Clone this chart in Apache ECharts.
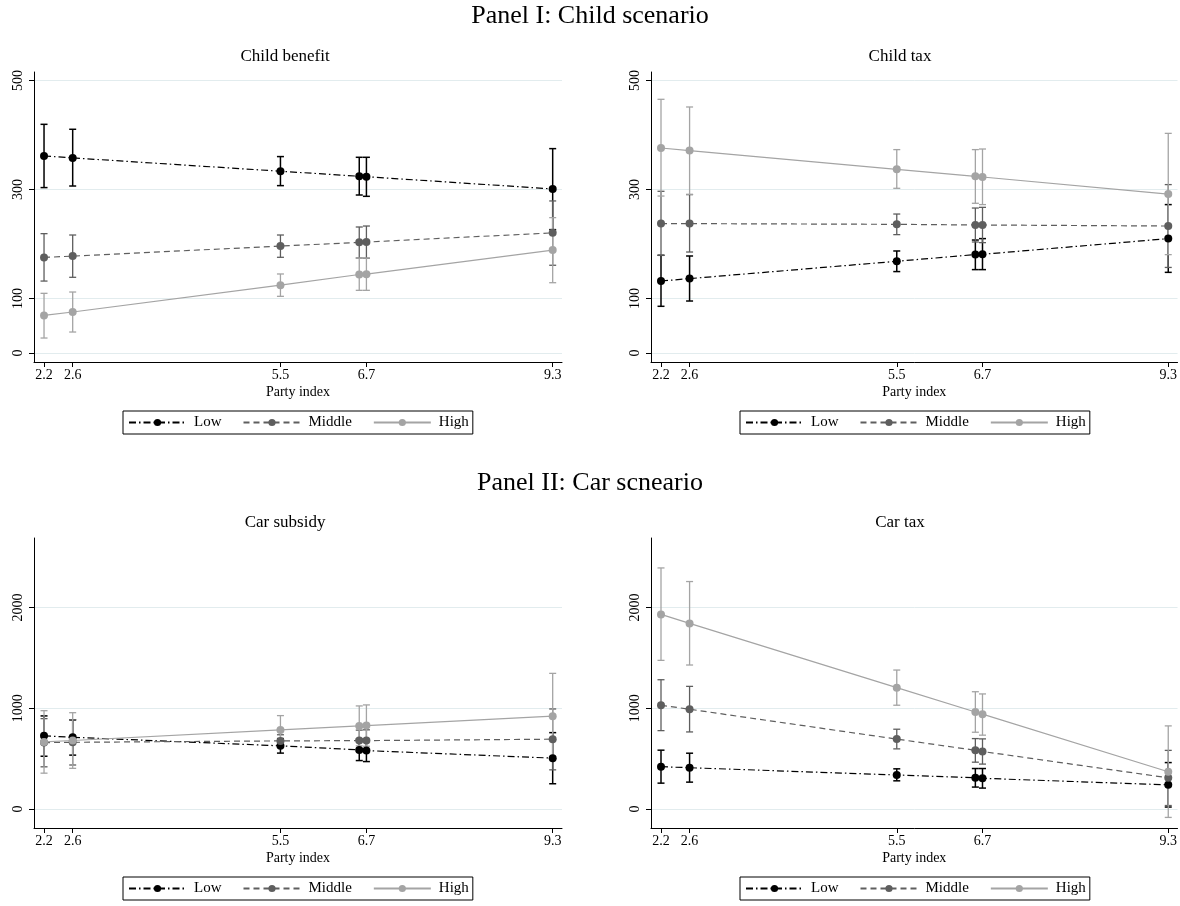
<!DOCTYPE html>
<html>
<head>
<meta charset="utf-8">
<script src="https://cdn.jsdelivr.net/npm/echarts@6.0.0/dist/echarts.min.js"></script>
<style>
html, body { margin: 0; padding: 0; background: #fff; }
#main { width: 1180px; height: 906px; }
</style>
</head>
<body>
<div id="main"></div>
<script>
// party index positions of the six parties, and the ticks that are labelled
var partyIndex = [2.2, 2.6, 5.5, 6.6, 6.7, 9.3];
var partyTicks = [2.2, 2.6, 5.5, 6.7, 9.3];
var groups = ['Low', 'Middle', 'High'];
var childTicks = [0, 100, 300, 500];
var carTicks = [0, 1000, 2000];

// Child benefit
var cbLow = [361.5, 358, 333.5, 324.3, 323.5, 301];
var cbLowLo = [303.5, 306.4, 307.1, 289.9, 287.5, 226.4];
var cbLowHi = [419.6, 410.5, 360.4, 359.1, 359.1, 375];
var cbMid = [175.3, 177.8, 196.2, 203, 203.5, 220.5];
var cbMidLo = [132, 138.9, 175.6, 174.3, 174, 161];
var cbMidHi = [219, 216.5, 216.5, 231.2, 233, 279];
var cbHigh = [69, 75.2, 124.4, 144, 144.6, 188.8];
var cbHighLo = [27.5, 38.5, 104, 115, 115, 129];
var cbHighHi = [109.5, 111.9, 145, 174.3, 174.3, 248.4];

// Child tax
var ctLow = [132.1, 136.5, 168.3, 180.6, 181.1, 209.9];
var ctLowLo = [85.7, 95.4, 149.4, 153, 153, 148];
var ctLowHi = [179.3, 178, 187.2, 207.3, 209.9, 272.3];
var ctMid = [237.4, 237.4, 236.1, 234.9, 234.9, 233];
var ctMidLo = [179.3, 185.3, 217.2, 203.7, 202.5, 157];
var ctMidHi = [296.7, 290.6, 255, 266, 267.3, 309];
var ctHigh = [376.2, 371.4, 337.1, 324.2, 322.9, 291.7];
var ctHighLo = [288, 291.2, 302.2, 274.7, 272.3, 180.5];
var ctHighHi = [465.5, 451.4, 373.2, 373.2, 374.3, 403];

// Car subsidy
var csLow = [726, 712, 627, 587, 580, 505];
var csLowLo = [524, 535, 555, 481, 471, 251];
var csLowHi = [924, 884, 699, 693, 689, 758];
var csMid = [659, 662, 676, 679, 679, 693];
var csMidLo = [419, 437, 615, 575, 572, 389];
var csMidHi = [897, 887, 737, 783, 786, 993];
var csHigh = [666, 680, 785, 825, 828, 921];
var csHighLo = [356, 404, 643, 627, 623, 498];
var csHighHi = [976, 956, 927, 1023, 1033, 1346];

// Car tax
var cxLow = [420, 410, 338, 310, 305, 240];
var cxLowLo = [257, 267, 280, 218, 208, 20];
var cxLowHi = [584, 554, 399, 402, 402, 461];
var cxMid = [1030, 990, 694, 583, 571, 310];
var cxMidLo = [778, 765, 597, 465, 446, 35];
var cxMidHi = [1283, 1217, 792, 699, 696, 582];
var cxHigh = [1931, 1842, 1204, 963, 941, 370];
var cxHighLo = [1475, 1429, 1030, 762, 733, -83];
var cxHighHi = [2392, 2257, 1379, 1164, 1142, 825];

var serif = 'Liberation Serif';
var colors = { Low: '#000000', Middle: '#5e5e5e', High: '#a4a4a4' };
var dashes = { Low: [7, 3, 1.5, 3], Middle: [6, 4], High: 'solid' };

var chartDom = document.getElementById('main');
var myChart = echarts.init(chartDom, null, { width: 1180, height: 906 });

var grids = [
    { left: 34, top: 72, width: 528, height: 290 },
    { left: 651, top: 72, width: 527, height: 290 },
    { left: 34, top: 538, width: 528, height: 290 },
    { left: 651, top: 538, width: 527, height: 290 }
];
var yRanges = [[-16.5, 515.6], [-16.5, 515.6], [-188, 2689], [-188, 2689]];
var yTicks = [childTicks, childTicks, carTicks, carTicks];
var legendPos = [[123, 411], [740, 411], [123, 877], [740, 877]];

var panels = [
    [[cbLow, cbLowLo, cbLowHi], [cbMid, cbMidLo, cbMidHi], [cbHigh, cbHighLo, cbHighHi]],
    [[ctLow, ctLowLo, ctLowHi], [ctMid, ctMidLo, ctMidHi], [ctHigh, ctHighLo, ctHighHi]],
    [[csLow, csLowLo, csLowHi], [csMid, csMidLo, csMidHi], [csHigh, csHighLo, csHighHi]],
    [[cxLow, cxLowLo, cxLowHi], [cxMid, cxMidLo, cxMidHi], [cxHigh, cxHighLo, cxHighHi]]
];

function capRenderer(color, width) {
    return function (params, api) {
        var x = api.value(0);
        var lo = api.coord([x, api.value(1)]);
        var hi = api.coord([x, api.value(2)]);
        var half = 3.5;
        var st = { stroke: color, lineWidth: width };
        return {
            type: 'group',
            children: [
                { type: 'line', shape: { x1: lo[0], y1: lo[1], x2: hi[0], y2: hi[1] }, style: st },
                { type: 'line', shape: { x1: lo[0] - half, y1: lo[1], x2: lo[0] + half, y2: lo[1] }, style: st },
                { type: 'line', shape: { x1: hi[0] - half, y1: hi[1], x2: hi[0] + half, y2: hi[1] }, style: st }
            ]
        };
    };
}

var xAxes = [], yAxes = [], series = [], legends = [];
for (var i = 0; i < 4; i++) {
    xAxes.push({
        gridIndex: i,
        type: 'value',
        min: 2.06,
        max: 9.43,
        name: 'Party index',
        nameLocation: 'middle',
        nameGap: 23,
        nameTextStyle: { fontFamily: serif, fontSize: 14, color: '#000' },
        axisLine: { show: true, onZero: false, lineStyle: { color: '#000', width: 1 } },
        axisTick: { show: true, customValues: partyTicks, length: 5, lineStyle: { color: '#000' } },
        axisLabel: { customValues: partyTicks, margin: 6, fontFamily: serif, fontSize: 14, color: '#000' },
        splitLine: { show: false }
    });
    yAxes.push({
        gridIndex: i,
        type: 'value',
        min: yRanges[i][0],
        max: yRanges[i][1],
        axisLine: { show: true, onZero: false, lineStyle: { color: '#000', width: 1 } },
        axisTick: { show: true, customValues: yTicks[i], length: 5, lineStyle: { color: '#000' } },
        axisLabel: {
            customValues: yTicks[i], rotate: 90, margin: 9,
            fontFamily: serif, fontSize: 14, color: '#000',
            formatter: function (v) { return String(v); }
        },
        splitLine: { show: true, lineStyle: { color: '#e2ecee', width: 1 } }
    });
    legends.push({
        data: groups,
        left: legendPos[i][0],
        top: legendPos[i][1],
        orient: 'horizontal',
        itemWidth: 57,
        itemHeight: 9,
        itemGap: 21,
        borderColor: '#000',
        borderWidth: 1,
        borderRadius: 0,
        padding: [4, 4, 4, 5],
        selectedMode: false,
        textStyle: { fontFamily: serif, fontSize: 15, color: '#000', padding: [0, 0, 0, 3] }
    });
    for (var g = 0; g < 3; g++) {
        var name = groups[g];
        var d = panels[i][g];
        series.push({
            type: 'custom',
            name: name + ' CI',
            xAxisIndex: i,
            yAxisIndex: i,
            silent: true,
            z: 2,
            renderItem: capRenderer(colors[name], name === 'Low' ? 1.5 : 1.3),
            encode: { x: 0, y: [1, 2] },
            data: partyIndex.map(function (x, j) { return [x, d[1][j], d[2][j]]; })
        });
    }
    for (var g2 = 0; g2 < 3; g2++) {
        var nm = groups[g2];
        var dd = panels[i][g2];
        series.push({
            type: 'line',
            name: nm,
            xAxisIndex: i,
            yAxisIndex: i,
            z: 3,
            symbol: 'circle',
            symbolSize: 8,
            itemStyle: { color: colors[nm], borderWidth: 0 },
            lineStyle: { color: colors[nm], width: 1.2, type: dashes[nm] },
            data: partyIndex.map(function (x, j) { return [x, dd[0][j]]; })
        });
    }
}

var titleFont = { fontFamily: serif, fontWeight: 'normal', color: '#000' };
function mkTitle(text, x, y, size) {
    return {
        text: text, left: x, top: y, textAlign: 'center', textVerticalAlign: 'middle',
        padding: 0,
        textStyle: Object.assign({ fontSize: size }, titleFont)
    };
}

var option = {
    animation: false,
    backgroundColor: '#fff',
    title: [
        mkTitle('Panel I: Child scenario', 590, 16, 26),
        mkTitle('Child benefit', 285, 57, 17),
        mkTitle('Child tax', 900, 57, 17),
        mkTitle('Panel II: Car scneario', 590, 483, 26),
        mkTitle('Car subsidy', 285, 523, 17),
        mkTitle('Car tax', 900, 523, 17)
    ],
    legend: legends,
    grid: grids,
    xAxis: xAxes,
    yAxis: yAxes,
    series: series
};

option && myChart.setOption(option);
</script>
</body>
</html>
